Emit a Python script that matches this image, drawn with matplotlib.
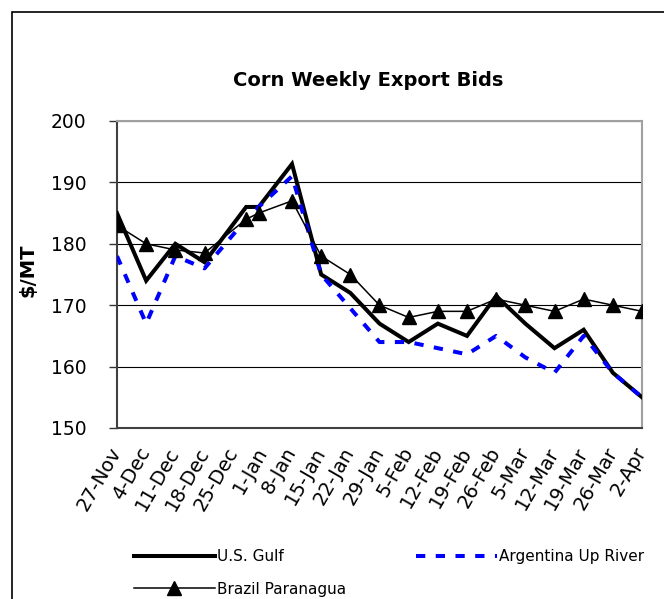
import matplotlib
matplotlib.use("Agg")
import matplotlib.pyplot as plt
from matplotlib.lines import Line2D
from matplotlib.patches import Rectangle
import numpy as np

# ---- data ----
week_labels = ["27-Nov", "4-Dec", "11-Dec", "18-Dec", "25-Dec", "1-Jan", "8-Jan",
               "15-Jan", "22-Jan", "29-Jan", "5-Feb", "12-Feb", "19-Feb", "26-Feb",
               "5-Mar", "12-Mar", "19-Mar", "26-Mar", "2-Apr"]
# observation day offsets from 27-Nov (holiday weeks fall on 28-Dec and 31-Dec)
obs_days = [0, 7, 14, 21, 31, 34, 42, 49, 56, 63, 70, 77, 84, 91, 98, 105, 112, 119, 126]
us_gulf = [185, 174, 180, 177, 186, 186, 193, 175, 172, 167, 164, 167, 165, 171.5,
           167, 163, 166, 159, 155]
argentina = [178, 167, 178, 176, 184, 186, 191, 175, 169.5, 164, 164, 163, 162, 165,
             161.5, 159, 165, 159, 155]
brazil = [183, 180, 179, 178.5, 184, 185, 187, 178, 175, 170, 168, 169, 169, 171,
          170, 169, 171, 170, 169]

W, H = 664, 599
fig = plt.figure(figsize=(W / 100, H / 100), dpi=100)
fig.patch.set_facecolor("white")

# outer chart border
fig.patches.append(Rectangle((12 / W, -0.1), 2, 1 - 12 / H + 0.1, transform=fig.transFigure,
                             fill=False, edgecolor="black", lw=1.2, clip_on=False))

ax = fig.add_axes([117 / W, 1 - 428 / H, (642 - 117) / W, (428 - 121) / H])

ax.plot(obs_days, us_gulf, color="black", lw=2.9, solid_joinstyle="miter",
        label="U.S. Gulf", zorder=3)
ax.plot(obs_days, argentina, color="#0000FF", lw=2.9, linestyle=(0, (2.3, 2.6)),
        dash_capstyle="butt", label="Argentina Up River", zorder=4)
ax.plot(obs_days, brazil, color="black", lw=1.1, marker="^", markersize=9.5,
        markerfacecolor="black", markeredgecolor="black", label="Brazil Paranagua", zorder=5)

tick_pos = np.arange(len(week_labels)) * 7
ax.set_xlim(tick_pos[0], tick_pos[-1])
ax.set_xticks(tick_pos)
ax.set_xticklabels(week_labels, rotation=60, ha="right", va="center",
                   rotation_mode="anchor", fontsize=14)
ax.tick_params(axis="x", length=0, pad=15)

ax.set_ylim(150, 200)
ax.set_yticks([150, 160, 170, 180, 190, 200])
ax.tick_params(axis="y", direction="out", length=6, width=1, pad=16, labelsize=13.5,
               color="#333333")

ax.yaxis.grid(True, color="black", lw=0.8)
ax.set_axisbelow(True)
for s in ("left", "bottom"):
    ax.spines[s].set_color("#404040")
    ax.spines[s].set_linewidth(1.5)
for s in ("top", "right"):
    ax.spines[s].set_color("#A0A0A0")
    ax.spines[s].set_linewidth(1.5)

fig.text(368 / W, 1 - 80 / H, "Corn Weekly Export Bids", ha="center", va="center",
         fontsize=14, fontweight="bold")
fig.text(28 / W, 1 - 270 / H, "$/MT", ha="center", va="center", rotation=90,
         fontsize=14, fontweight="bold")

h_us = Line2D([], [], color="black", lw=2.9)
h_ar = Line2D([], [], color="#0000FF", lw=2.9, linestyle=(0, (2.3, 2.6)), dash_capstyle="butt")
h_br = Line2D([], [], color="black", lw=1.1, marker="^", markersize=9.5)

common = dict(frameon=False, handlelength=5.3, handletextpad=0.15, labelspacing=1.15,
              borderpad=0, borderaxespad=0, fontsize=11, loc="upper left")
fig.legend(handles=[h_us, h_br], labels=["U.S. Gulf", "Brazil Paranagua"],
           bbox_to_anchor=(134 / W, 1 - 549 / H), **common)
fig.legend(handles=[h_ar], labels=["Argentina Up River"],
           bbox_to_anchor=(416 / W, 1 - 549 / H), **common)

fig.savefig("out.png", dpi=100, facecolor="white")
